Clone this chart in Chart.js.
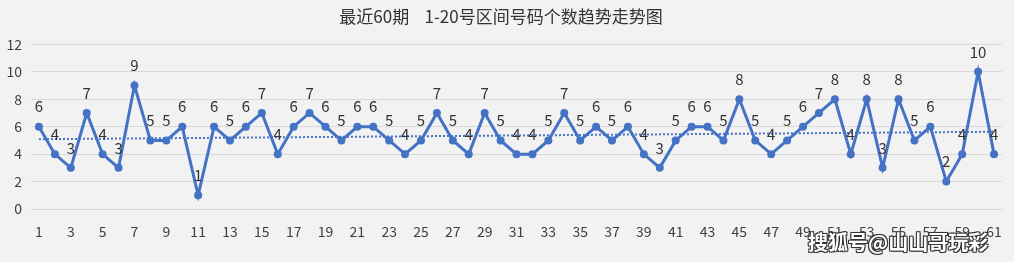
<!DOCTYPE html>
<html>
<head>
<meta charset="utf-8">
<script src="https://cdn.jsdelivr.net/npm/chart.js@4/dist/chart.umd.min.js"></script>
<style>
  html, body {
    margin: 0;
    padding: 0;
    background: #f2f2f2;
  }
  .wrap {
    position: relative;
    width: 1014px;
    height: 262px;
  }
  .mark {
    position: absolute;
    left: 808px;
    top: 229px;
    font-family: "Noto Sans CJK SC", sans-serif;
    font-size: 20px;
    font-weight: bold;
    color: #fff;
    text-shadow: -1px -1px 0 #333, 1px -1px 0 #333, -1px 1px 0 #333, 1px 1px 0 #333, 0 0 2px #000;
    line-height: 26px;
    white-space: nowrap;
  }
</style>
</head>
<body>
<div class="wrap">
  <canvas id="trend" width="1014" height="262"></canvas>
  <div class="mark">搜狐号@山山哥玩彩</div>
</div>
<script>
// counts per issue, issues 1..61
const periods = Array.from({ length: 61 }, (_, i) => String(i + 1));
const counts = [
  6, 4, 3, 7, 4, 3, 9, 5, 5, 6,
  1, 6, 5, 6, 7, 4, 6, 7, 6, 5,
  6, 6, 5, 4, 5, 7, 5, 4, 7, 5,
  4, 4, 5, 7, 5, 6, 5, 6, 4, 3,
  5, 6, 6, 5, 8, 5, 4, 5, 6, 7,
  8, 4, 8, 3, 8, 5, 6, 2, 4, 10,
  4
];
const yTicks = [0, 2, 4, 6, 8, 10, 12];

// least squares trend line over the counts
function linearTrend(vals) {
  const n = vals.length;
  let sx = 0, sy = 0, sxy = 0, sxx = 0;
  vals.forEach((v, i) => {
    const x = i + 1;
    sx += x; sy += v; sxy += x * v; sxx += x * x;
  });
  const b = (n * sxy - sx * sy) / (n * sxx - sx * sx);
  const a = (sy - b * sx) / n;
  return vals.map((_, i) => a + b * (i + 1));
}
const trend = linearTrend(counts);

const FONT = "'Microsoft YaHei', 'Noto Sans CJK SC', 'Noto Sans', sans-serif";

// value labels above each point
const pointLabels = {
  id: "pointLabels",
  afterDatasetsDraw(chart) {
    const ctx = chart.ctx;
    const meta = chart.getDatasetMeta(0);
    ctx.save();
    ctx.font = "15px " + FONT;
    ctx.fillStyle = "#333333";
    ctx.textAlign = "center";
    ctx.textBaseline = "middle";
    meta.data.forEach((pt, i) => {
      ctx.fillText(String(counts[i]), pt.x, pt.y - 20);
    });
    ctx.restore();
  }
};

new Chart(document.getElementById("trend"), {
  type: "line",
  data: {
    labels: periods,
    datasets: [
      {
        data: counts,
        borderColor: "#4472c4",
        backgroundColor: "#4472c4",
        borderWidth: 3,
        pointRadius: 4,
        pointHoverRadius: 4,
        pointBorderWidth: 0,
        tension: 0
      },
      {
        data: trend,
        borderColor: "#4472c4",
        borderWidth: 2,
        borderDash: [2, 2],
        pointRadius: 0,
        fill: false
      }
    ]
  },
  options: {
    responsive: false,
    animation: false,
    events: [],
    layout: { padding: { left: 0, right: 12, top: 0, bottom: 0 } },
    plugins: {
      legend: { display: false },
      tooltip: { enabled: false },
      title: {
        display: true,
        text: "最近60期    1-20号区间号码个数趋势走势图",
        color: "#333333",
        font: { family: FONT, size: 17, weight: "normal" },
        padding: { top: 6, bottom: 18 }
      }
    },
    scales: {
      x: {
        offset: true,
        grid: { display: false },
        border: { display: true, color: "#d9d9d9", width: 1 },
        ticks: {
          autoSkip: false,
          maxRotation: 0,
          color: "#404040",
          font: { family: FONT, size: 14 },
          padding: 6,
          callback: (v, i) => (i % 2 === 0 ? periods[i] : "")
        },
        afterFit: (s) => { s.height = 53; }
      },
      y: {
        min: 0,
        max: 12,
        afterBuildTicks: (s) => { s.ticks = yTicks.map((v) => ({ value: v })); },
        grid: { color: "#d9d9d9", drawTicks: false },
        border: { display: false },
        ticks: {
          color: "#404040",
          font: { family: FONT, size: 14 },
          padding: 9
        },
        afterFit: (s) => { s.width = 31; }
      }
    }
  },
  plugins: [pointLabels]
});
</script>
</body>
</html>
